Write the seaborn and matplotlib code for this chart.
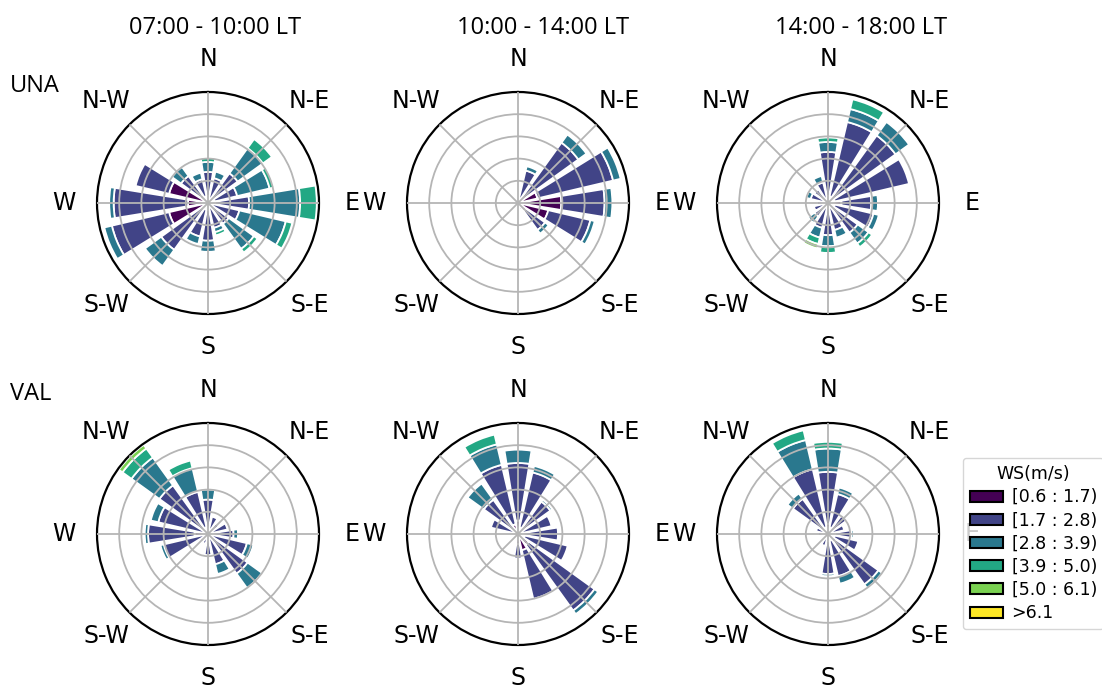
import numpy as np
import matplotlib
matplotlib.use("Agg")
import matplotlib.pyplot as plt
import seaborn as sns
from matplotlib.patches import Patch

# 16 sectors, clockwise from north
directions = ["N", "NNE", "NE", "ENE", "E", "ESE", "SE", "SSE",
              "S", "SSW", "SW", "WSW", "W", "WNW", "NW", "NNW"]
ws_bins = ["[0.6 : 1.7)", "[1.7 : 2.8)", "[2.8 : 3.9)",
           "[3.9 : 5.0)", "[5.0 : 6.1)", ">6.1"]
periods = ["07:00 - 10:00 LT", "10:00 - 14:00 LT", "14:00 - 18:00 LT"]
sites = ["UNA", "VAL"]
compass = ["N", "N-E", "E", "S-E", "S", "S-W", "W", "N-W"]

# frequency (%) per speed bin (rows) and direction (columns)
una_07_10 = [
    [0.6, 0.4, 0.6, 0.6, 0.6, 0.4, 0.4, 0.4, 0.6, 0.6, 0.6, 3.6, 1.8, 3.6, 0.9, 0.6],
    [2.2, 1.9, 2.7, 2.1, 3.1, 2.5, 1.9, 1.9, 2.8, 2.5, 4.6, 5.3, 6.7, 3.1, 2.1, 1.6],
    [0.9, 0.6, 2.8, 3.0, 4.6, 4.3, 2.8, 0.4, 1.0, 0.7, 1.8, 0.7, 0.4, 0.0, 1.0, 0.6],
    [0.4, 0.0, 1.0, 0.4, 1.5, 0.6, 0.4, 0.3, 0.0, 0.0, 0.0, 0.0, 0.0, 0.0, 0.0, 0.0],
    [0.0] * 16,
    [0.0] * 16,
]
una_10_14 = [
    [0.0, 0.2, 0.4, 1.8, 3.9, 2.8, 0.9, 0.3, 0.0, 0.0, 0.0, 0.0, 0.0, 0.0, 0.0, 0.0],
    [0.0, 2.8, 6.3, 7.0, 3.9, 3.9, 2.1, 0.4, 0.0, 0.0, 0.0, 0.0, 0.0, 0.0, 0.0, 0.0],
    [0.0, 0.4, 0.9, 0.7, 0.7, 0.4, 0.4, 0.0, 0.0, 0.0, 0.0, 0.0, 0.0, 0.0, 0.0, 0.0],
    [0.0] * 16,
    [0.0] * 16,
    [0.0] * 16,
]
una_14_18 = [
    [0.6, 0.6, 0.6, 0.6, 1.2, 0.6, 0.6, 0.4, 0.4, 0.4, 0.3, 0.3, 0.3, 0.3, 0.3, 0.4],
    [4.0, 6.9, 6.9, 6.9, 2.7, 3.6, 2.7, 2.1, 2.5, 1.9, 1.2, 1.0, 0.7, 1.3, 1.2, 1.5],
    [0.9, 1.2, 1.5, 0.0, 0.6, 0.5, 1.2, 0.7, 1.0, 0.9, 0.7, 0.0, 0.0, 0.4, 0.0, 0.6],
    [0.4, 0.9, 0.0, 0.0, 0.0, 0.0, 0.4, 0.0, 0.6, 0.6, 0.0, 0.0, 0.0, 0.0, 0.0, 0.0],
    [0.0, 0.0, 0.0, 0.0, 0.0, 0.0, 0.0, 0.0, 0.0, 0.4, 0.0, 0.0, 0.0, 0.0, 0.0, 0.0],
    [0.0] * 16,
]
val_07_10 = [
    [0.4, 0.3, 0.3, 0.3, 0.3, 0.3, 0.4, 0.3, 0.3, 0.3, 0.3, 0.4, 1.2, 0.4, 0.6, 0.6],
    [2.7, 1.3, 0.9, 1.5, 2.0, 3.3, 4.0, 2.5, 1.6, 0.6, 0.6, 3.7, 4.2, 4.2, 4.8, 3.3],
    [0.9, 0.0, 0.0, 0.0, 0.4, 0.6, 1.6, 0.9, 0.0, 0.0, 0.0, 0.3, 0.3, 0.7, 3.1, 2.2],
    [0.0, 0.0, 0.0, 0.0, 0.0, 0.0, 0.0, 0.0, 0.0, 0.0, 0.0, 0.0, 0.0, 0.0, 1.0, 0.7],
    [0.0, 0.0, 0.0, 0.0, 0.0, 0.0, 0.0, 0.0, 0.0, 0.0, 0.0, 0.0, 0.0, 0.0, 0.4, 0.0],
    [0.0] * 16,
]
val_10_14 = [
    [1.2, 0.6, 0.3, 0.3, 0.4, 0.6, 1.2, 1.5, 0.9, 0.2, 0.0, 0.0, 0.0, 0.3, 0.4, 0.9],
    [5.2, 5.1, 3.3, 2.8, 3.2, 4.0, 7.3, 4.5, 1.3, 0.0, 0.0, 0.0, 0.0, 2.2, 3.4, 5.5],
    [1.2, 0.6, 0.2, 0.0, 0.0, 0.0, 0.4, 0.0, 0.0, 0.0, 0.0, 0.0, 0.0, 0.0, 1.8, 1.9],
    [0.0, 0.0, 0.0, 0.0, 0.0, 0.0, 0.0, 0.0, 0.0, 0.0, 0.0, 0.0, 0.0, 0.0, 0.0, 0.9],
    [0.0] * 16,
    [0.0] * 16,
]
val_14_18 = [
    [0.9, 0.6, 0.4, 0.3, 0.6, 0.6, 0.9, 0.6, 0.6, 0.4, 0.3, 0.3, 0.3, 0.4, 0.6, 0.6],
    [4.7, 3.1, 1.6, 1.2, 1.5, 2.2, 4.7, 3.3, 3.0, 0.7, 0.4, 0.0, 0.6, 0.7, 3.3, 5.4],
    [2.1, 0.6, 0.0, 0.0, 0.2, 0.0, 0.4, 0.7, 0.2, 0.0, 0.0, 0.0, 0.0, 0.0, 0.6, 2.7],
    [0.6, 0.0, 0.0, 0.0, 0.0, 0.0, 0.0, 0.0, 0.0, 0.0, 0.0, 0.0, 0.0, 0.0, 0.0, 0.9],
    [0.0] * 16,
    [0.0] * 16,
]
tables = [[una_07_10, una_10_14, una_14_18],
          [val_07_10, val_10_14, val_14_18]]

sns.set_style("white")
plt.rcParams['font.family'] = ['DejaVu Sans']
plt.rcParams['text.color'] = 'black'
plt.rcParams['xtick.color'] = 'black'
plt.rcParams['ytick.color'] = 'black'

colors = sns.color_palette("viridis", as_cmap=True)(np.linspace(0, 1, len(ws_bins)))

W, H = 1102, 688
fig = plt.figure(figsize=(W / 100, H / 100), dpi=100)

centers_x = [208, 518, 828]
centers_y = [203, 534]
R = 111
theta = np.deg2rad(np.arange(len(directions)) * 22.5)
width = np.deg2rad(22.5) * 0.82

for r, site in enumerate(sites):
    for c in range(3):
        cx, cy = centers_x[c], centers_y[r]
        ax = fig.add_axes([(cx - R) / W, (H - cy - R) / H, 2 * R / W, 2 * R / H],
                          projection='polar')
        ax.set_theta_zero_location('N')
        ax.set_theta_direction(-1)
        table = np.array(tables[r][c])
        bottom = np.zeros(len(directions))
        for k in range(len(ws_bins)):
            vals = table[k]
            keep = vals > 0
            if keep.any():
                ax.bar(theta[keep], vals[keep], width=width, bottom=bottom[keep],
                       color=colors[k], edgecolor='white', linewidth=1.3, zorder=1)
            bottom += vals
        ax.set_ylim(0, 10)
        ax.set_yticks([2, 4, 6, 8])
        ax.set_yticklabels([])
        ax.set_xticks(np.deg2rad(np.arange(0, 360, 45)))
        ax.set_xticklabels(compass, fontsize=17, color='black')
        ax.tick_params(axis='x', pad=13)
        ax.grid(True, color='#b5b5b5', linewidth=1.3)
        ax.set_axisbelow(False)
        ax.spines['polar'].set_color('black')
        ax.spines['polar'].set_linewidth(1.6)

title_x = [215, 543, 861]
for c, p in enumerate(periods):
    fig.text(title_x[c] / W, 1 - 28 / H, p, ha='center', va='center',
             fontsize=17, family='Open Sans')
fig.text(10 / W, 1 - 86 / H, sites[0], ha='left', va='center', fontsize=17, family='Open Sans')
fig.text(10 / W, 1 - 394 / H, sites[1], ha='left', va='center', fontsize=17, family='Open Sans')

handles = [Patch(facecolor=colors[k], edgecolor='black', linewidth=1.5) for k in range(len(ws_bins))]
fig.legend(handles, ws_bins, title='WS(m/s)', loc='upper left',
           bbox_to_anchor=(963 / W, 1 - 458 / H), borderaxespad=0,
           fontsize=12.5, title_fontsize=12.5,
           labelspacing=0.3, handlelength=1.9, handleheight=0.6, handletextpad=0.5,
           borderpad=0.4, frameon=True, edgecolor='0.8', fancybox=True)

fig.savefig("out.png", dpi=100)
